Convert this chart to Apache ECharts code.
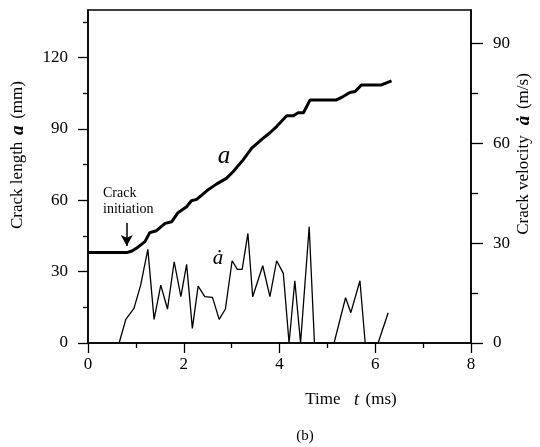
<!DOCTYPE html>
<html>
<head>
<meta charset="utf-8">
<script src="https://cdn.jsdelivr.net/npm/echarts@6/dist/echarts.min.js"></script>
<style>
html,body{margin:0;padding:0;background:#fff;}
#main{width:540px;height:447px;}
</style>
</head>
<body>
<div id="main"></div>
<script>
// Crack length a (mm) vs time t (ms)
var timeA = [0, 0.81, 0.92, 1.01, 1.19, 1.29, 1.43, 1.61, 1.75, 1.88, 2.06, 2.16, 2.27, 2.48, 2.69, 2.89, 3.03, 3.24, 3.42, 3.66, 3.80, 3.94, 4.15, 4.29, 4.39, 4.50, 4.64, 5.19, 5.33, 5.47, 5.58, 5.71, 6.13, 6.34];
var lengthA = [38, 38, 38.7, 39.8, 42.6, 46.4, 47.2, 50.3, 51.0, 54.8, 57.3, 59.8, 60.4, 64.0, 66.9, 69.2, 72.0, 77.0, 81.9, 86.1, 88.4, 91.0, 95.5, 95.5, 96.8, 96.8, 102.2, 102.2, 103.6, 105.3, 105.7, 108.5, 108.5, 110.2];
// Crack velocity (m/s) vs time t (ms)
var timeV = [0.65, 0.79, 0.96, 1.10, 1.25, 1.38, 1.52, 1.66, 1.80, 1.94, 2.06, 2.18, 2.30, 2.44, 2.60, 2.74, 2.87, 3.01, 3.12, 3.22, 3.34, 3.44, 3.65, 3.80, 3.94, 4.08, 4.20, 4.32, 4.44, 4.62, 4.73, 5.14, 5.38, 5.49, 5.68, 5.79, 6.06, 6.27];
var velocity = [0, 7.1, 10.4, 17.4, 28.1, 7.1, 17.4, 10.2, 24.4, 13.9, 23.6, 4.4, 17.1, 13.9, 13.7, 7.1, 10.2, 24.7, 22.1, 22.1, 32.9, 13.9, 23.2, 13.9, 24.7, 20.9, 0, 18.7, 0, 34.9, 0, 0, 13.6, 9.1, 18.7, 0, 0, 9.1];
// Axis ticks
var leftMajor = [0, 30, 60, 90, 120];
var leftMinor = [15, 45, 75, 105, 135];
var rightMajor = [0, 30, 60, 90];
var rightMinor = [15, 45, 75];
// Arrow (crack initiation) in data coords
var arrowT = [0.81, 0.81];
var arrowA = [50.5, 40.8];

var FONT = '"Liberation Serif", "DejaVu Serif", serif';
var chart = echarts.init(document.getElementById('main'));

function zip(xs, ys) { return xs.map(function (x, i) { return [x, ys[i]]; }); }

var lineStyleAxis = { color: '#000', width: 1.5 };

var option = {
  animation: false,
  backgroundColor: '#fff',
  grid: { left: 88, right: 69, top: 10, bottom: 104, show: true, borderColor: '#000', borderWidth: 1.5, containLabel: false, outerBoundsMode: 'none' },
  xAxis: {
    type: 'value', min: 0, max: 8, interval: 2,
    axisLine: { show: true, onZero: false, lineStyle: lineStyleAxis },
    axisTick: { show: true, length: 10, lineStyle: { color: '#000', width: 1.3 } },
    minorTick: { show: true, splitNumber: 2, length: 5, lineStyle: { color: '#000', width: 1.3 } },
    axisLabel: { margin: 13, fontFamily: FONT, fontSize: 17, color: '#000' },
    splitLine: { show: false }, minorSplitLine: { show: false }
  },
  yAxis: [
    {
      type: 'value', position: 'left', min: 0, max: 140,
      axisLine: { show: true, lineStyle: lineStyleAxis },
      axisTick: { show: true, length: 10, customValues: leftMajor, lineStyle: { color: '#000', width: 1.3 } },
      axisLabel: { customValues: leftMajor, margin: 20, fontFamily: FONT, fontSize: 17, color: '#000' },
      splitLine: { show: false }
    },
    {
      type: 'value', position: 'right', min: 0, max: 100,
      axisLine: { show: true, lineStyle: lineStyleAxis },
      axisTick: { show: true, length: 12, customValues: rightMajor, lineStyle: { color: '#000', width: 1.3 } },
      axisLabel: { customValues: rightMajor, margin: 22, fontFamily: FONT, fontSize: 17, color: '#000' },
      splitLine: { show: false }
    },
    {
      type: 'value', position: 'left', min: 0, max: 140, offset: 0,
      axisLine: { show: false },
      axisTick: { show: true, length: 5, customValues: leftMinor, lineStyle: { color: '#000', width: 1.3 } },
      axisLabel: { show: false },
      splitLine: { show: false }
    },
    {
      type: 'value', position: 'right', min: 0, max: 100, offset: 0,
      axisLine: { show: false },
      axisTick: { show: true, length: 7, customValues: rightMinor, lineStyle: { color: '#000', width: 1.3 } },
      axisLabel: { show: false },
      splitLine: { show: false }
    }
  ],
  series: [
    {
      type: 'line', yAxisIndex: 0, data: zip(timeA, lengthA),
      showSymbol: false, symbol: 'none',
      lineStyle: { color: '#000', width: 3 },
      markLine: {
        silent: true, symbol: ['none', 'arrow'], symbolSize: [9, 11],
        label: { show: false },
        lineStyle: { color: '#000', width: 1.5, type: 'solid' },
        data: [[{ coord: [arrowT[0], arrowA[0]] }, { coord: [arrowT[1], arrowA[1]] }]]
      }
    },
    {
      type: 'line', yAxisIndex: 1, data: zip(timeV, velocity),
      showSymbol: false, symbol: 'none',
      lineStyle: { color: '#000', width: 1.3 }
    }
  ],
  graphic: [
    { type: 'text', left: 103, top: 185, style: { text: 'Crack\ninitiation', font: '14px ' + FONT, fill: '#000', lineHeight: 16 } },
    { type: 'text', x: 224, y: 156, style: { text: 'a', font: 'italic 25px ' + FONT, fill: '#000', textAlign: 'center', textVerticalAlign: 'middle' } },
    { type: 'text', x: 218, y: 258, style: { text: '\u0227', font: 'italic 21px ' + FONT, fill: '#000', textAlign: 'center', textVerticalAlign: 'middle' } },
    { type: 'text', x: 18, y: 155, rotation: Math.PI / 2,
      style: { text: '{n|Crack length}  {v|a}  {n|(mm)}', textAlign: 'center', textVerticalAlign: 'middle',
        rich: { n: { font: '17px ' + FONT, fill: '#000' }, v: { font: 'italic bold 19px ' + FONT, fill: '#000' } } } },
    { type: 'text', x: 524, y: 154, rotation: Math.PI / 2,
      style: { text: '{n|Crack velocity}   {v|\u0227}  {n|(m/s)}', textAlign: 'center', textVerticalAlign: 'middle',
        rich: { n: { font: '17px ' + FONT, fill: '#000' }, v: { font: 'italic bold 19px ' + FONT, fill: '#000' } } } },
    { type: 'text', x: 351, y: 400,
      style: { text: '{n|Time}    {v|t}  {n|(ms)}', textAlign: 'center', textVerticalAlign: 'middle',
        rich: { n: { font: '17px ' + FONT, fill: '#000' }, v: { font: 'italic 18px ' + FONT, fill: '#000' } } } },
    { type: 'text', x: 305, y: 436, style: { text: '(b)', font: '15px ' + FONT, fill: '#000', textAlign: 'center', textVerticalAlign: 'middle' } }
  ]
};
chart.setOption(option);
</script>
</body>
</html>
